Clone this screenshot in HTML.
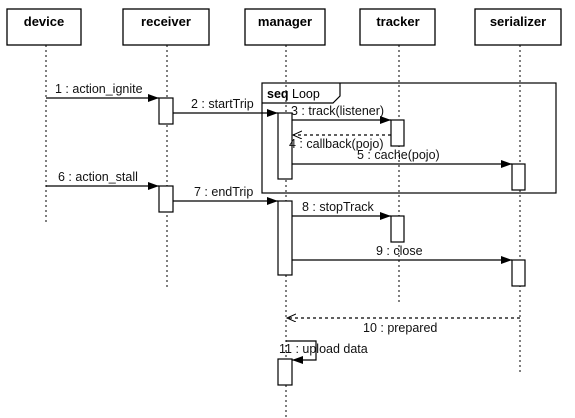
<!DOCTYPE html>
<html><head><meta charset="utf-8"><style>
html,body{margin:0;padding:0;background:#fff;}
svg{display:block;font-family:"Liberation Sans",sans-serif;}
</style></head><body>
<svg width="575" height="418" viewBox="0 0 575 418" xmlns="http://www.w3.org/2000/svg">
<defs>
<marker id="f" markerWidth="12" markerHeight="10" refX="11" refY="4" orient="auto" markerUnits="userSpaceOnUse"><path d="M0,0 L11,4 L0,8 z" fill="#000"/></marker>
<marker id="o" markerWidth="12" markerHeight="10" refX="9" refY="4" orient="auto" markerUnits="userSpaceOnUse"><path d="M0,0 L9,4 L0,8" fill="none" stroke="#000" stroke-width="1"/></marker>
</defs>
<g stroke="#000" stroke-width="1.3" fill="#fff">
<rect x="7" y="9" width="74" height="36"/>
<rect x="123" y="9" width="86" height="36"/>
<rect x="245" y="9" width="80" height="36"/>
<rect x="360" y="9" width="75" height="36"/>
<rect x="475" y="9" width="86" height="36"/>
</g>
<g font-size="13" font-weight="bold" text-anchor="middle">
<text x="44" y="26">device</text>
<text x="166" y="26">receiver</text>
<text x="285" y="26">manager</text>
<text x="398" y="26">tracker</text>
<text x="518" y="26">serializer</text>
</g>
<g stroke="#000" stroke-width="1" stroke-dasharray="2,3">
<line x1="46" y1="45" x2="46" y2="225"/>
<line x1="167" y1="45" x2="167" y2="287"/>
<line x1="286" y1="45" x2="286" y2="418"/>
<line x1="399" y1="45" x2="399" y2="304"/>
<line x1="520" y1="45" x2="520" y2="375"/>
</g>
<g stroke="#000" stroke-width="1.2" fill="none">
<rect x="262" y="83" width="294" height="110"/>
<path d="M262,103 L333,103 L340,96 L340,83"/>
</g>
<text x="267" y="98" font-size="12.5"><tspan font-weight="bold">seq</tspan>  Loop</text>
<g stroke="#000" stroke-width="1.2" fill="none">
<line x1="46" y1="98" x2="159" y2="98" marker-end="url(#f)"/>
<line x1="173" y1="113" x2="278" y2="113" marker-end="url(#f)"/>
<line x1="292" y1="120" x2="391" y2="120" marker-end="url(#f)"/>
<line x1="391" y1="135" x2="293" y2="135" stroke-dasharray="3,3" marker-end="url(#o)"/>
<line x1="292" y1="164" x2="512" y2="164" marker-end="url(#f)"/>
<line x1="46" y1="186" x2="159" y2="186" marker-end="url(#f)"/>
<line x1="173" y1="201" x2="278" y2="201" marker-end="url(#f)"/>
<line x1="292" y1="216" x2="391" y2="216" marker-end="url(#f)"/>
<line x1="292" y1="260" x2="512" y2="260" marker-end="url(#f)"/>
<line x1="520" y1="318" x2="287" y2="318" stroke-dasharray="3,3" marker-end="url(#o)"/>
<path d="M286,341 L316,341 L316,360 L292,360" marker-end="url(#f)"/>
</g>
<g stroke="#000" stroke-width="1.2" fill="#fff">
<rect x="159" y="98" width="14" height="26"/>
<rect x="278" y="113" width="14" height="66"/>
<rect x="391" y="120" width="13" height="26"/>
<rect x="512" y="164" width="13" height="26"/>
<rect x="159" y="186" width="14" height="26"/>
<rect x="278" y="201" width="14" height="74"/>
<rect x="391" y="216" width="13" height="26"/>
<rect x="512" y="260" width="13" height="26"/>
<rect x="278" y="359" width="14" height="26"/>
</g>
<g font-size="12.5" fill="#111">
<text x="55" y="93">1 : action_ignite</text>
<text x="191" y="108">2 : startTrip</text>
<text x="291" y="115">3 : track(listener)</text>
<text x="289" y="148">4 : callback(pojo)</text>
<text x="357" y="159">5 : cache(pojo)</text>
<text x="58" y="181">6 : action_stall</text>
<text x="194" y="196">7 : endTrip</text>
<text x="302" y="211">8 : stopTrack</text>
<text x="376" y="255">9 : close</text>
<text x="363" y="332">10 : prepared</text>
<text x="279" y="353">11 : upload data</text>
</g>
</svg>
</body></html>
